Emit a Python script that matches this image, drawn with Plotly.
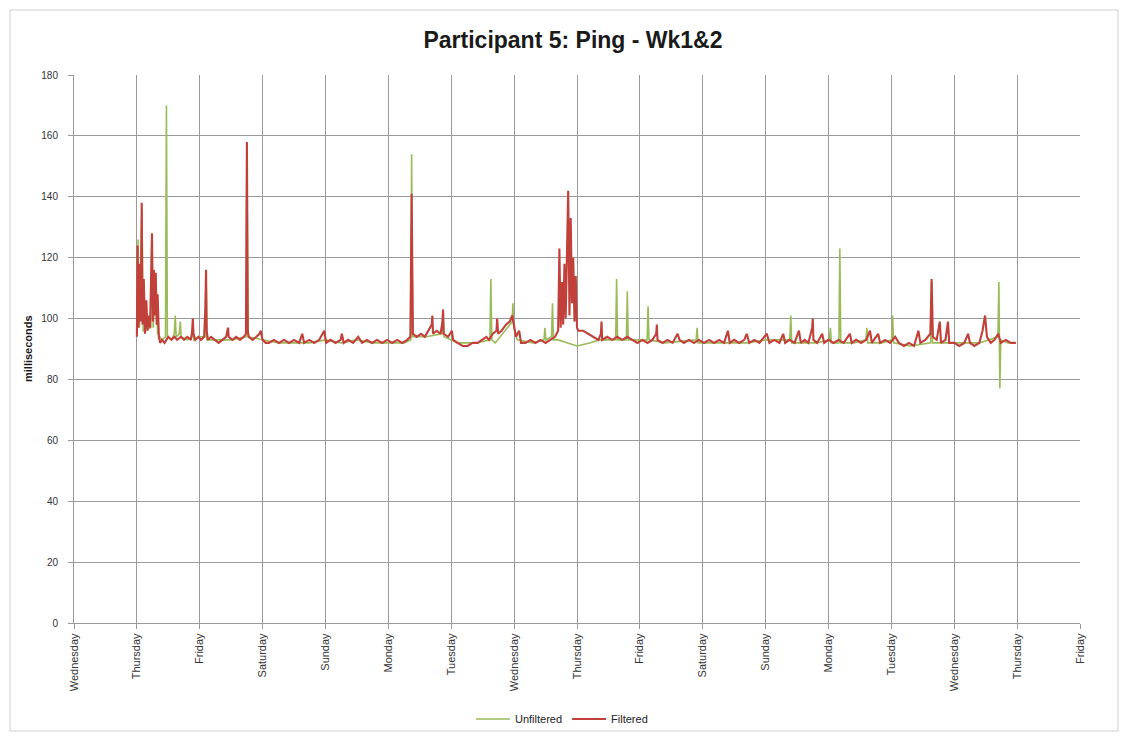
import plotly.graph_objects as go

# x positions are days since Wednesday 00:00 of week 1
DAY_LABELS = ["Wednesday", "Thursday", "Friday", "Saturday", "Sunday", "Monday", "Tuesday",
              "Wednesday", "Thursday", "Friday", "Saturday", "Sunday", "Monday", "Tuesday",
              "Wednesday", "Thursday", "Friday"]

# (day, ms) samples
UNFILTERED = [
    (1.00, 95), (1.02, 126), (1.04, 97), (1.08, 136), (1.10, 96), (1.22, 97), (1.24, 127),
    (1.26, 97), (1.30, 114), (1.33, 95), (1.40, 93), (1.455, 94), (1.47, 170), (1.485, 94),
    (1.55, 93), (1.595, 95), (1.61, 101), (1.625, 94), (1.675, 95), (1.69, 99), (1.705, 94),
    (1.80, 93), (1.875, 94), (1.89, 99), (1.905, 93), (2.00, 94), (2.085, 94), (2.10, 115),
    (2.115, 93), (2.30, 93), (2.50, 93), (2.735, 94), (2.75, 156), (2.765, 94), (3.00, 93),
    (3.25, 92), (3.50, 92), (3.75, 92), (4.00, 93), (4.25, 92), (4.50, 93), (4.75, 92),
    (5.00, 92), (5.25, 92), (5.355, 93), (5.37, 154), (5.385, 94), (5.60, 94), (5.855, 95),
    (5.87, 102), (5.885, 94), (6.10, 92), (6.40, 92), (6.615, 93), (6.63, 113), (6.645, 93),
    (6.70, 92), (6.97, 99), (6.98, 105), (6.995, 97), (7.05, 93), (7.30, 92), (7.475, 93),
    (7.49, 97), (7.505, 93), (7.595, 94), (7.61, 105), (7.625, 93), (7.70, 93), (7.86, 92),
    (8.00, 91), (8.20, 92), (8.35, 93), (8.615, 93), (8.63, 113), (8.645, 93), (8.785, 93),
    (8.80, 109), (8.815, 93), (9.115, 93), (9.13, 104), (9.145, 93), (9.40, 92), (9.895, 93),
    (9.91, 97), (9.925, 92), (10.30, 92), (10.70, 92), (11.00, 93), (11.385, 93), (11.40, 101),
    (11.415, 92), (11.80, 92), (12.015, 93), (12.03, 97), (12.045, 92), (12.165, 92),
    (12.18, 123), (12.195, 92), (12.40, 92), (12.595, 93), (12.61, 97), (12.625, 92),
    (12.85, 92), (13.005, 93), (13.02, 101), (13.035, 92), (13.30, 91), (13.625, 92),
    (13.64, 112), (13.655, 92), (14.00, 92), (14.40, 92), (14.695, 94), (14.71, 112),
    (14.725, 77), (14.74, 93), (14.85, 92), (14.97, 92),
]

FILTERED = [
    (1.00, 94), (1.01, 124), (1.025, 97), (1.04, 118), (1.06, 99), (1.077, 138), (1.09, 98),
    (1.11, 113), (1.13, 95), (1.15, 106), (1.17, 96), (1.19, 101), (1.21, 97), (1.225, 120),
    (1.24, 128), (1.255, 99), (1.27, 116), (1.285, 101), (1.30, 115), (1.315, 98), (1.33, 108),
    (1.35, 94), (1.37, 92), (1.40, 93), (1.44, 92), (1.47, 93), (1.50, 94), (1.55, 93),
    (1.60, 94), (1.64, 93), (1.70, 94), (1.75, 93), (1.80, 94), (1.86, 93), (1.88, 96),
    (1.89, 100), (1.90, 95), (1.93, 93), (1.98, 94), (2.02, 93), (2.07, 94), (2.09, 104),
    (2.10, 116), (2.11, 96), (2.13, 93), (2.18, 94), (2.24, 93), (2.30, 92), (2.36, 93),
    (2.42, 94), (2.44, 96), (2.45, 97), (2.46, 94), (2.52, 93), (2.58, 94), (2.64, 93),
    (2.70, 94), (2.735, 95), (2.75, 158), (2.765, 96), (2.78, 94), (2.84, 93), (2.90, 94),
    (2.95, 95), (2.97, 96), (3.00, 93), (3.05, 92), (3.10, 92), (3.18, 93), (3.26, 92),
    (3.34, 93), (3.42, 92), (3.50, 93), (3.58, 92), (3.63, 95), (3.66, 92), (3.74, 93),
    (3.82, 92), (3.90, 93), (3.98, 96), (4.01, 92), (4.08, 93), (4.16, 92), (4.24, 93),
    (4.26, 95), (4.29, 92), (4.36, 93), (4.44, 92), (4.52, 94), (4.58, 92), (4.66, 93),
    (4.74, 92), (4.82, 93), (4.90, 92), (4.98, 93), (5.06, 92), (5.14, 93), (5.22, 92),
    (5.30, 93), (5.35, 94), (5.37, 141), (5.39, 95), (5.45, 94), (5.52, 95), (5.58, 94),
    (5.64, 96), (5.69, 98), (5.70, 101), (5.71, 95), (5.77, 96), (5.83, 95), (5.86, 99),
    (5.87, 103), (5.88, 95), (5.95, 94), (6.01, 96), (6.03, 93), (6.10, 92), (6.18, 91),
    (6.26, 91), (6.34, 92), (6.42, 92), (6.50, 93), (6.56, 94), (6.60, 93), (6.66, 95),
    (6.72, 96), (6.73, 100), (6.745, 95), (6.80, 96), (6.87, 98), (6.93, 99), (6.97, 101),
    (7.00, 98), (7.03, 94), (7.08, 96), (7.11, 92), (7.18, 92), (7.26, 93), (7.34, 92),
    (7.42, 93), (7.50, 92), (7.58, 93), (7.65, 94), (7.70, 96), (7.72, 123), (7.74, 97),
    (7.76, 112), (7.78, 98), (7.80, 118), (7.82, 100), (7.84, 125), (7.86, 142), (7.88, 101),
    (7.90, 133), (7.92, 105), (7.94, 120), (7.96, 99), (7.98, 114), (8.00, 97), (8.02, 96),
    (8.10, 96), (8.18, 95), (8.26, 94), (8.34, 93), (8.38, 95), (8.39, 99), (8.40, 93),
    (8.48, 94), (8.56, 93), (8.64, 94), (8.72, 93), (8.80, 94), (8.88, 93), (8.96, 92),
    (9.04, 93), (9.12, 92), (9.20, 93), (9.26, 95), (9.27, 98), (9.28, 93), (9.36, 92),
    (9.44, 93), (9.52, 92), (9.60, 95), (9.63, 93), (9.70, 92), (9.78, 93), (9.86, 92),
    (9.94, 93), (10.02, 92), (10.10, 93), (10.18, 92), (10.26, 93), (10.34, 92), (10.40, 96),
    (10.43, 92), (10.50, 93), (10.58, 92), (10.66, 93), (10.70, 95), (10.74, 92), (10.82, 93),
    (10.90, 92), (10.99, 94), (11.02, 95), (11.06, 92), (11.14, 93), (11.22, 92), (11.28, 95),
    (11.31, 92), (11.38, 93), (11.46, 92), (11.53, 96), (11.56, 92), (11.62, 93), (11.68, 92),
    (11.74, 97), (11.75, 100), (11.76, 93), (11.82, 92), (11.90, 95), (11.93, 92), (12.00, 93),
    (12.08, 92), (12.16, 93), (12.24, 92), (12.34, 95), (12.37, 92), (12.44, 93), (12.52, 92),
    (12.60, 93), (12.66, 96), (12.69, 92), (12.79, 95), (12.82, 92), (12.90, 93), (12.98, 92),
    (13.06, 94), (13.12, 92), (13.20, 91), (13.28, 92), (13.36, 91), (13.43, 96), (13.46, 92),
    (13.54, 93), (13.62, 95), (13.64, 113), (13.66, 94), (13.72, 93), (13.77, 99), (13.79, 92),
    (13.86, 93), (13.90, 99), (13.92, 92), (14.00, 92), (14.08, 91), (14.16, 92), (14.22, 95),
    (14.25, 92), (14.32, 91), (14.40, 92), (14.45, 96), (14.49, 101), (14.52, 94), (14.58, 92),
    (14.64, 93), (14.70, 95), (14.74, 92), (14.82, 93), (14.90, 92), (14.98, 92),
]

GRID = "#9a9a9a"
FONT = "Liberation Sans, Arial, sans-serif"

fig = go.Figure()

uf_x, uf_y = zip(*UNFILTERED)
f_x, f_y = zip(*FILTERED)

fig.add_trace(go.Scatter(x=uf_x, y=uf_y, mode="lines", name="Unfiltered",
                         line=dict(color="#9BBB59", width=1.6)))
fig.add_trace(go.Scatter(x=f_x, y=f_y, mode="lines", name="Filtered",
                         line=dict(color="#C2403A", width=2.1)))

# the page body adds an 8px offset at top/left, so the figure is 8px smaller
fig.update_layout(
    width=1120, height=732,
    paper_bgcolor="white", plot_bgcolor="white",
    margin=dict(l=66, r=48, t=67, b=117),
    font=dict(family=FONT, color="#222222"),
    title=dict(text="<b>Participant 5: Ping - Wk1&2</b>", x=565 / 1120, xanchor="center",
               y=1 - 32 / 732, yanchor="middle", yref="container",
               font=dict(size=23, color="#1a1a1a")),
    xaxis=dict(range=[0, 16], tickmode="array", tickvals=list(range(len(DAY_LABELS))),
               ticktext=DAY_LABELS, tickangle=-90, tickfont=dict(size=11, color="#333333"),
               showgrid=True, gridcolor=GRID, gridwidth=1,
               showline=True, linecolor=GRID, linewidth=1, automargin=False,
               ticks="outside", ticklen=5, tickcolor=GRID, zeroline=False),
    yaxis=dict(range=[0, 180], tickmode="array", tickvals=list(range(0, 181, 20)),
               tickfont=dict(size=10, color="#333333"), ticklabelstandoff=8,
               showgrid=True, gridcolor=GRID, gridwidth=1,
               showline=True, linecolor=GRID, linewidth=1, automargin=False,
               ticks="outside", ticklen=5, tickcolor=GRID, zeroline=False),
    legend=dict(orientation="h", x=(562 - 74) / 1006, xanchor="center",
                yref="container", y=(732 - (719 - 8)) / 732, yanchor="middle",
                bgcolor="rgba(0,0,0,0)",
                font=dict(size=11), traceorder="normal", itemwidth=34),
    showlegend=True,
)

fig.add_annotation(text="<b>milliseconds</b>", xref="paper", yref="paper",
                   x=(20 - 74) / 1006, y=0.5, textangle=-90, showarrow=False,
                   font=dict(size=11, color="#1a1a1a"))

# faint chart frame like the spreadsheet chart area
fig.add_shape(type="rect", xref="paper", yref="paper",
              x0=(10 - 74) / 1006, x1=(1118 - 74) / 1006,
              y0=(623 - 731) / 548, y1=(623 - 10) / 548,
              line=dict(color="#cfcfcf", width=1), layer="below")

fig.write_html("out.html")
